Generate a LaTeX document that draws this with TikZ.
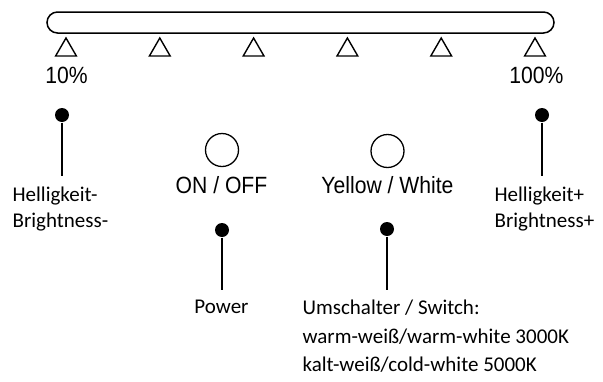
\documentclass[tikz,border=0pt]{standalone}
\usepackage{fontspec}
\setmainfont{Carlito}
\newfontfamily\narrowfont[FakeStretch=0.9]{Liberation Sans}
\usetikzlibrary{shapes.geometric}

\tikzset{
  levelmark/.style={draw, regular polygon, regular polygon sides=3, minimum size=24pt, inner sep=0pt, line width=1.4pt},
  keylabel/.style={font=\narrowfont\fontsize{23.5}{28}\selectfont, inner sep=0pt},
  keyhole/.style={draw, circle, minimum size=33pt, inner sep=0pt, line width=1.3pt},
  pindot/.style={fill, circle, minimum size=14pt, inner sep=0pt},
  pinlabel/.style={font=\fontsize{21}{25.5}\selectfont, align=left, inner sep=0pt},
}

\begin{document}
\begin{tikzpicture}[x=1pt, y=-1pt, line width=1.2pt]
	\useasboundingbox (0,0) rectangle (603,381);
	% slider bar
	\draw[line width=1.5pt, rounded corners=10.5pt] (47,12) rectangle (554,33);
	% level marks
	\foreach \i in {0,...,5}
		\node[levelmark] (mark\i) at ({66+93.8*\i},50) {};
	\node[keylabel, anchor=base] (low) at (66.5,83) {10\%};
	\node[keylabel, anchor=base] (high) at (536.5,83) {100\%};

	% buttons
	\node[keyhole] (power) at (222,150) {};
	\node[keylabel, anchor=base] (powertext) at (221.5,193) {ON / OFF};
	\node[keyhole] (colour) at (387.5,151) {};
	\node[keylabel, anchor=base] (colourtext) at (387.5,193.5) {Yellow / White};

	% pins
	\node[pindot] (dimdown) at (62,115) {};
	\node[pindot] (dimup) at (542,115) {};
	\node[pindot] (onoff) at (222,230) {};
	\node[pindot] (switch) at (387,229) {};

	% texts
	\node[pinlabel, anchor=north west] (dimdowntext) at (12,186.5) {Helligkeit-\\Brightness-};
	\node[pinlabel, anchor=north west] (dimuptext) at (494,186.5) {Helligkeit+\\Brightness+};
	\node[pinlabel, anchor=base] (onofftext) at (221.5,313) {Power};
	\node[pinlabel, anchor=north west, font=\fontsize{21}{28.5}\selectfont] (switchtext) at (302,299.5)
		{Umschalter / Switch:\\warm-weiß/warm-white 3000K\\kalt-weiß/cold-white 5000K};

	% leads
	\draw[shorten >=11pt] (dimdown) -- (dimdown |- dimdowntext.north);
	\draw[shorten >=11pt] (dimup) -- (dimup |- dimuptext.north);
	\draw[shorten >=10pt] (onoff) -- (onoff |- switchtext.north);
	\draw[shorten >=10pt] (switch) -- (switch |- switchtext.north);
\end{tikzpicture}
\end{document}
